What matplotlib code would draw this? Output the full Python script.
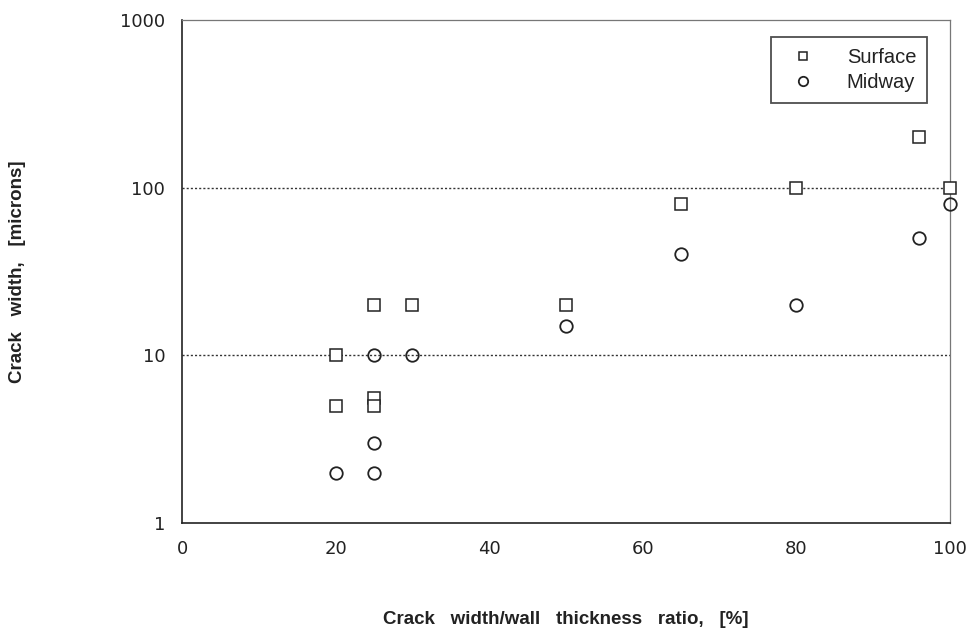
import matplotlib
matplotlib.use("Agg")
import matplotlib.pyplot as plt
from matplotlib.ticker import FixedLocator, FixedFormatter, NullLocator

surface_x = [20, 20, 25, 25, 25, 30, 50, 65, 80, 96, 100]
surface_y = [10, 5, 20, 5.6, 5, 20, 20, 80, 100, 200, 100]
midway_x = [20, 25, 25, 25, 30, 50, 65, 80, 96, 100]
midway_y = [2, 10, 3, 2, 10, 15, 40, 20, 50, 80]

xticks = [0, 20, 40, 60, 80, 100]
yticks = [1, 10, 100, 1000]
ytick_labels = ["1", "10", "100", "1000"]

plt.rcParams['font.family'] = ['Liberation Sans', 'DejaVu Sans']

fig = plt.figure(figsize=(9.76, 6.28), dpi=100)
ax = fig.add_axes([0.1865, 0.167, 0.7865, 0.801])

ax.plot(surface_x, surface_y, linestyle='none', marker='s', ms=8, mfc='white',
        mec='#222222', mew=1.1, label='Surface', clip_on=False, zorder=3)
ax.plot(midway_x, midway_y, linestyle='none', marker='o', ms=9, mfc='none',
        mec='#222222', mew=1.3, label='Midway', clip_on=False, zorder=3)

ax.set_yscale('log')
ax.set_xlim(0, 100)
ax.set_ylim(1, 1000)
ax.xaxis.set_major_locator(FixedLocator(xticks))
ax.yaxis.set_major_locator(FixedLocator(yticks))
ax.yaxis.set_major_formatter(FixedFormatter(ytick_labels))
ax.yaxis.set_minor_locator(NullLocator())

for v in [10, 100]:
    ax.axhline(v, color='#333333', lw=1.0, ls=(0, (1.5, 1.5)), zorder=1)

ax.tick_params(axis='both', which='major', length=0, labelsize=13, pad=12,
               colors='#222222')
for lab in ax.get_xticklabels() + ax.get_yticklabels():
    lab.set_fontfamily('DejaVu Sans')
    lab.set_fontsize(13)

ax.spines['left'].set_color('#222222')
ax.spines['bottom'].set_color('#222222')
ax.spines['left'].set_linewidth(1.2)
ax.spines['bottom'].set_linewidth(1.2)
ax.spines['top'].set_color('#777777')
ax.spines['right'].set_color('#777777')
ax.spines['top'].set_linewidth(0.9)
ax.spines['right'].set_linewidth(0.9)

ax.set_xlabel("Crack   width/wall   thickness   ratio,   [%]", fontsize=13.5,
              fontweight='bold', labelpad=38, color='#222222')
ax.set_ylabel("Crack   width,   [microns]", fontsize=13.5, fontweight='bold',
              labelpad=68, color='#222222')

leg = ax.legend(loc='upper right', bbox_to_anchor=(0.971, 0.967), frameon=True,
                fancybox=False, edgecolor='#222222', fontsize=14.5,
                handletextpad=1.2, borderpad=0.55, labelspacing=0.3,
                borderaxespad=0, markerscale=0.75)
leg.get_frame().set_linewidth(1.3)
for t in leg.get_texts():
    t.set_color('#222222')

fig.savefig("out.png", dpi=100)
